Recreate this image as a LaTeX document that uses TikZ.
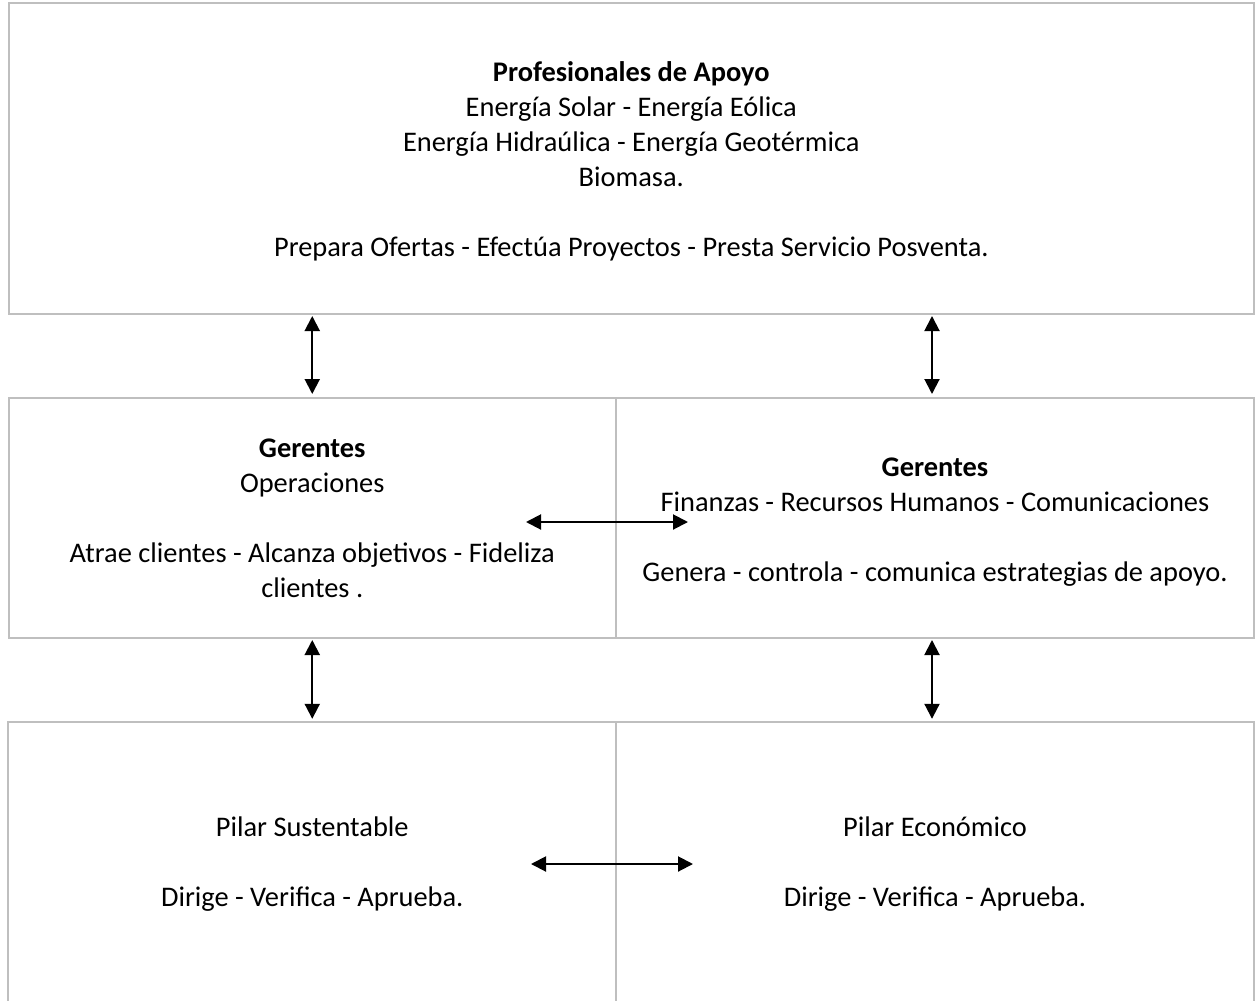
\documentclass[tikz,border=0pt]{standalone}
\usepackage{fontspec}
\setmainfont{Carlito}
\usetikzlibrary{arrows.meta}
\definecolor{boxgray}{HTML}{BFBFBF}
\newcommand\boxfont{\fontsize{28.4pt}{35pt}\selectfont}
\begin{document}
\begin{tikzpicture}[x=1pt,y=-1pt,
  box/.style={draw=boxgray, line width=2pt, inner sep=0pt, align=center, font=\boxfont},
  openbox/.style={draw=none, inner sep=0pt, align=center, font=\boxfont},
  edge/.style={draw=boxgray, line width=2pt},
  dbl/.style={{Triangle[length=15pt,width=15pt]}-{Triangle[length=15pt,width=15pt]}, line width=2pt, black}]
\useasboundingbox (0,0) rectangle (1256,1001);
\node[box, minimum width=1245.5pt, minimum height=311pt] (top) at (631.25,158.5)
  {\rule{0pt}{26pt}\textbf{Profesionales de Apoyo}\\Energía Solar - Energía Eólica\\Energía Hidraúlica - Energía Geotérmica\\Biomasa.\\[35pt]Prepara Ofertas - Efectúa Proyectos - Presta Servicio Posventa.};
\node[box, minimum width=607.5pt, minimum height=240pt] (ml) at (312.25,518)
  {\textbf{Gerentes}\\Operaciones\\[35pt]Atrae clientes - Alcanza objetivos - Fideliza\\clientes .};
\node[box, minimum width=638pt, minimum height=240pt] (mr) at (935,518)
  {\rule{0pt}{26pt}\textbf{Gerentes}\\Finanzas - Recursos Humanos - Comunicaciones\\[35pt]Genera - controla - comunica estrategias de apoyo.};
\node[openbox, minimum width=607.5pt, minimum height=280pt] (bl) at (312.25,862)
  {\rule{0pt}{24pt}Pilar Sustentable\\[35pt]Dirige - Verifica - Aprueba.};
\node[openbox, minimum width=638pt, minimum height=280pt] (br) at (935,862)
  {\rule{0pt}{24pt}Pilar Económico\\[35pt]Dirige - Verifica - Aprueba.};
\draw[edge] (bl.south west) -- (bl.north west) -- (bl.north east) -- (bl.south east);
\draw[edge] (br.north west) -- (br.north east) -- (br.south east);
\coordinate (ha) at (526,522);
\coordinate (hb) at (688,522);
\coordinate (hc) at (531,864);
\coordinate (hd) at (693,864);
\draw[dbl, shorten <=1pt, shorten >=3pt] (top.south -| ml.north) -- (ml.north);
\draw[dbl, shorten <=1pt, shorten >=3pt] ([xshift=-3pt]top.south -| mr.north) -- ([xshift=-3pt]mr.north);
\draw[dbl, shorten <=1pt, shorten >=3pt] (ml.south) -- (bl.north);
\draw[dbl, shorten <=1pt, shorten >=3pt] ([xshift=-3pt]mr.south) -- ([xshift=-3pt]br.north);
\draw[dbl] (ha) -- (hb);
\draw[dbl] (hc) -- (hd);
\end{tikzpicture}
\end{document}
